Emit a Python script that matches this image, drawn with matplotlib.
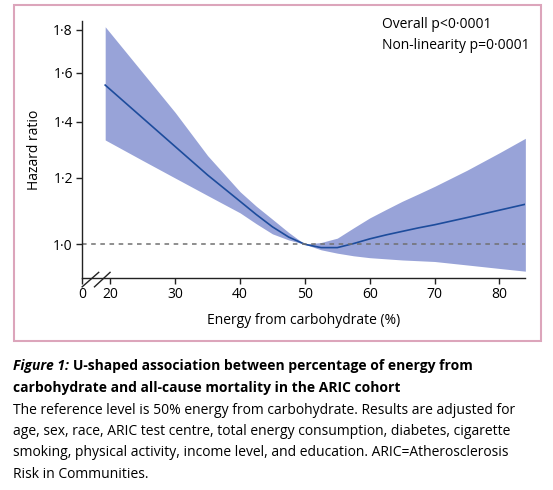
import numpy as np
import matplotlib
matplotlib.use('Agg')
import matplotlib.pyplot as plt
from matplotlib.patches import Rectangle

plt.rcParams['font.family'] = ['Open Sans', 'DejaVu Sans']

# Dane (energia z węglowodanów w %, hazard ratio)
energia = [19.2, 25, 30, 35, 40, 42.5, 45, 47.5, 50, 52.5, 55, 57.5, 60,
           62.5, 65, 67.5, 70, 75, 80, 84]
hr = [1.547, 1.413, 1.307, 1.209, 1.125, 1.085, 1.049, 1.020, 1.0, 0.991,
      0.991, 1.002, 1.015, 1.026, 1.036, 1.046, 1.055, 1.076, 1.098, 1.116]
hr_gora = [1.815, 1.600, 1.435, 1.275, 1.155, 1.110, 1.071, 1.033, 1.0, 1.005,
           1.017, 1.046, 1.075, 1.100, 1.125, 1.148, 1.172, 1.225, 1.285, 1.337]
hr_dol = [1.331, 1.258, 1.199, 1.143, 1.090, 1.058, 1.029, 1.012, 1.0, 0.985,
          0.976, 0.969, 0.964, 0.961, 0.958, 0.956, 0.954, 0.945, 0.936, 0.929]

x_ticki = [15.6, 20, 30, 40, 50, 60, 70, 80]
x_etykiety = ['0', '20', '30', '40', '50', '60', '70', '80']
y_ticki = [1.0, 1.2, 1.4, 1.6, 1.8]
y_etykiety = ['1·0', '1·2', '1·4', '1·6', '1·8']

fig = plt.figure(figsize=(5.53, 4.9), dpi=100)
ax = fig.add_axes([0.148, 0.432, 0.802, 0.526])

ax.fill_between(energia, hr_dol, hr_gora, color='#98a3d8', linewidth=0)
ax.plot(energia, hr, color='#1d4c9c', linewidth=1.2)
ax.axhline(1.0, color='#707070', linewidth=1.1, linestyle=(0, (3, 3)))

ax.set_yscale('log')
ax.set_xlim(15.6, 84.0)
ax.set_ylim(0.911, 1.846)
ax.set_yticks(y_ticki)
ax.set_yticklabels(y_etykiety)
ax.yaxis.set_minor_locator(matplotlib.ticker.NullLocator())
ax.set_xticks(x_ticki)
ax.set_xticklabels(x_etykiety)

for s in ['top', 'right']:
    ax.spines[s].set_visible(False)
for s in ['left', 'bottom']:
    ax.spines[s].set_color('#222222')
    ax.spines[s].set_linewidth(1.0)
ax.tick_params(direction='out', length=4.5, width=1.0, color='#222222',
               labelsize=10, pad=2)

# przerwa na osi x
ax.plot([15.65, 18.2], [0.890, 0.926], color='#222222', linewidth=1.0, clip_on=False)
ax.plot([17.55, 19.95], [0.890, 0.926], color='#222222', linewidth=1.0, clip_on=False)

ax.set_xlabel('Energy from carbohydrate (%)', fontsize=10, labelpad=8)
ax.set_ylabel('Hazard ratio', fontsize=10, labelpad=8)

fig.text(0.690, 0.949, 'Overall p<0·0001', fontsize=10, va='center')
fig.text(0.690, 0.908, 'Non-linearity p=0·0001', fontsize=10, va='center')

# ramka
fig.patches.append(Rectangle((14 / 553, 1 - 341 / 490), 527 / 553, 336 / 490,
                             transform=fig.transFigure, fill=False,
                             edgecolor='#dca5bb', linewidth=1.5))

# podpis
fig.text(13.4 / 553, 1 - 366 / 490, 'Figure 1:', fontsize=10,
         fontweight='bold', style='italic', va='center')
fig.text(73 / 553, 1 - 366 / 490,
         'U-shaped association between percentage of energy from',
         fontsize=10, fontweight='bold', va='center')
fig.text(13.4 / 553, 1 - 388 / 490,
         'carbohydrate and all-cause mortality in the ARIC cohort',
         fontsize=10, fontweight='bold', va='center')
opis = ['The reference level is 50% energy from carbohydrate. Results are adjusted for',
        'age, sex, race, ARIC test centre, total energy consumption, diabetes, cigarette',
        'smoking, physical activity, income level, and education. ARIC=Atherosclerosis',
        'Risk in Communities.']
for i, linia in enumerate(opis):
    fig.text(13.4 / 553, 1 - (410 + 21.4 * i) / 490, linia, fontsize=10, va='center')

fig.savefig('out.png', dpi=100)
